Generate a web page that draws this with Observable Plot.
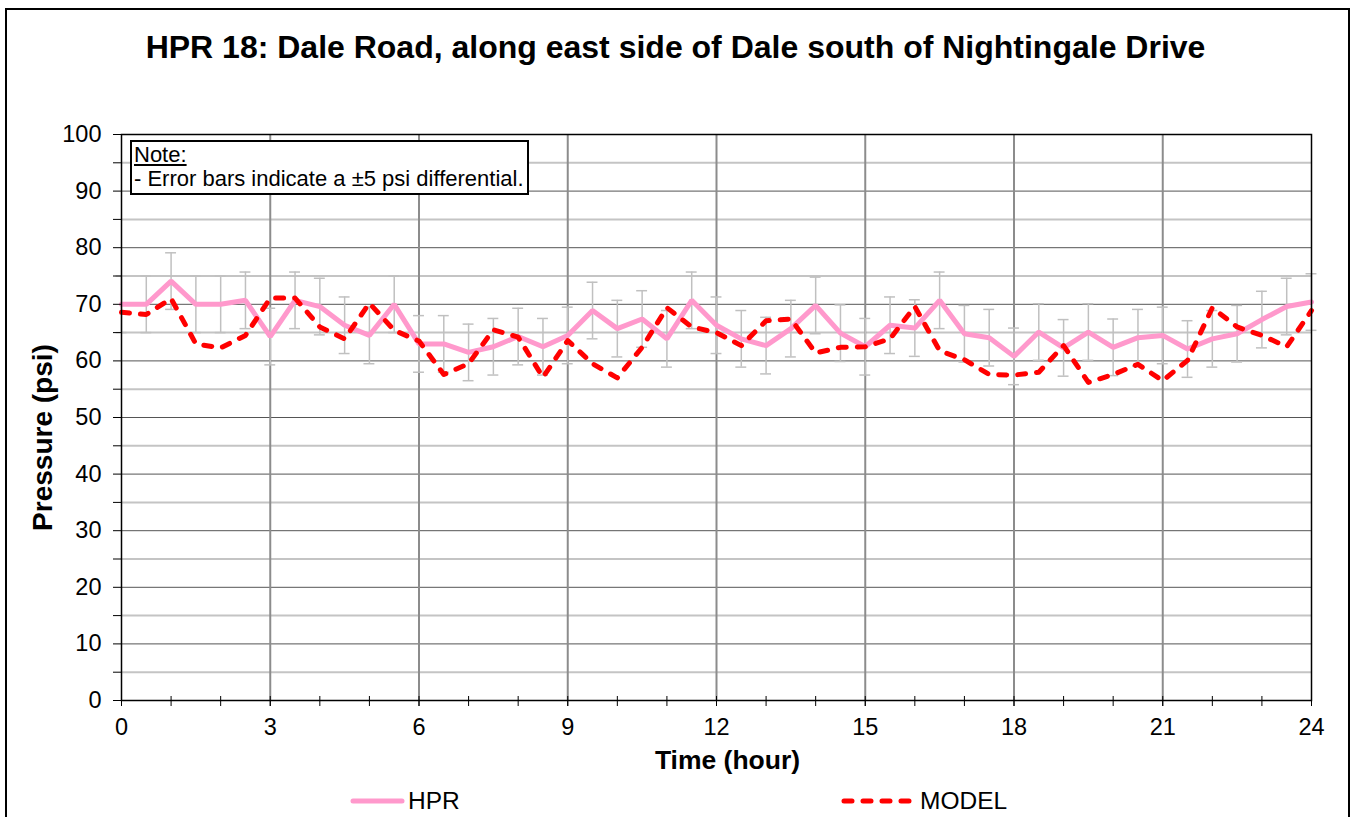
<!DOCTYPE html>
<html>
<head>
<meta charset="utf-8">
<script src="https://cdn.jsdelivr.net/npm/d3@7"></script>
<script src="https://cdn.jsdelivr.net/npm/@observablehq/plot@0.6"></script>
<style>
  html, body { margin: 0; padding: 0; background: #fff; }
  body { font-family: "Liberation Sans", Arial, sans-serif; }
  #wrap { position: relative; width: 1356px; height: 817px; overflow: hidden; background: #fff; }
  #border { position: absolute; left: 5px; top: 8px; width: 1345px; height: 900px; border: 2px solid #000; box-sizing: border-box; }
  #title { position: absolute; left: 0; top: 28px; width: 1351px; text-align: center; font-weight: bold; font-size: 32px; line-height: 38px; color: #000; white-space: nowrap; }
  #chart { position: absolute; left: 0; top: 100px; }
  #note { position: absolute; left: 130px; top: 140px; width: 399px; height: 55px; border: 2px solid #000; box-sizing: border-box; background: #fff; font-size: 22px; line-height: 24px; padding: 1px 0 0 2px; color: #000; white-space: nowrap; }
  #note u { text-decoration: underline; }
  .leg { position: absolute; top: 787px; height: 28px; display: flex; align-items: center; font-size: 24.5px; color: #000; }
  .leg svg { display: block; margin-right: 3px; }
</style>
</head>
<body>
<div id="wrap">
  <div id="border"></div>
  <div id="title"></div>
  <div id="chart"></div>
  <div id="note"><u>Note:</u><br>- Error bars indicate a ±5 psi differential.</div>
  <div class="leg" id="legHPR" style="left:350px"></div>
  <div class="leg" id="legMODEL" style="left:841px"></div>
</div>
<script>
const titleText = "HPR 18: Dale Road, along east side of Dale south of Nightingale Drive";
const xLabel = "Time (hour)";
const yLabel = "Pressure (psi)";
const seriesNames = ["HPR", "MODEL"];
const seriesColors = ["#ff99cc", "#ff0000"];
const errorMargin = 5;

const hours = [0, 0.5, 1, 1.5, 2, 2.5, 3, 3.5, 4, 4.5, 5, 5.5, 6, 6.5, 7, 7.5, 8, 8.5, 9, 9.5,
  10, 10.5, 11, 11.5, 12, 12.5, 13, 13.5, 14, 14.5, 15, 15.5, 16, 16.5, 17, 17.5, 18, 18.5, 19, 19.5,
  20, 20.5, 21, 21.5, 22, 22.5, 23, 23.5, 24];

const hprValues = [70.0, 70.0, 74.1, 70.0, 70.0, 70.7, 64.3, 70.7, 69.6, 66.3, 64.5, 70.0, 63.0, 63.0, 61.5, 62.5, 64.3, 62.5, 64.5, 68.9,
  65.7, 67.4, 63.9, 70.7, 66.3, 63.9, 62.7, 65.7, 69.8, 64.9, 62.5, 66.3, 65.8, 70.7, 64.8, 64.1, 60.8, 65.1, 62.3, 65.1,
  62.4, 64.1, 64.5, 62.1, 63.9, 64.8, 67.3, 69.6, 70.4];

const modelValues = [68.6, 68.2, 71.0, 63.0, 62.3, 64.5, 71.1, 71.1, 66.0, 63.9, 70.2, 65.4, 63.5, 57.6, 59.5, 65.5, 64.2, 57.1, 63.6, 59.5,
  57.0, 62.4, 69.4, 66.0, 65.0, 62.7, 67.1, 67.4, 61.4, 62.4, 62.5, 63.9, 69.6, 61.8, 60.2, 57.6, 57.5, 58.0, 62.7, 56.2,
  57.6, 59.4, 56.5, 60.1, 69.4, 66.0, 64.5, 62.5, 68.9];

const xTickLabels = [0, 3, 6, 9, 12, 15, 18, 21, 24];
const xMinorTicks = [0, 1, 2, 3, 4, 5, 6, 7, 8, 9, 10, 11, 12, 13, 14, 15, 16, 17, 18, 19, 20, 21, 22, 23, 24];
const yTickLabels = [0, 10, 20, 30, 40, 50, 60, 70, 80, 90, 100];
const yMinorTicks = [5, 15, 25, 35, 45, 55, 65, 75, 85, 95];
const xGrid = [3, 6, 9, 12, 15, 18, 21];

const hpr = hours.map((t, i) => ({t, v: hprValues[i]}));
const model = hours.map((t, i) => ({t, v: modelValues[i]}));
const capHalf = 0.11;

document.getElementById("title").textContent = titleText;

const chart = Plot.plot({
  width: 1356,
  height: 690,
  marginLeft: 121,
  marginRight: 45,
  marginTop: 34,
  marginBottom: 90,
  style: {fontFamily: "'Liberation Sans', Arial, sans-serif", fontSize: "23.5px", color: "#000", background: "transparent", overflow: "visible"},
  x: {domain: [0, 24], label: null},
  y: {domain: [0, 100], label: null},
  marks: [
    Plot.gridY(yMinorTicks, {stroke: "#c4c4c4", strokeOpacity: 1, strokeWidth: 2}),
    Plot.gridY(yTickLabels, {stroke: "#555", strokeOpacity: 1, strokeWidth: 1}),
    Plot.gridX(xGrid, {stroke: "#8c8c8c", strokeOpacity: 1, strokeWidth: 2}),
    // error bars
    Plot.ruleX(hpr, {x: "t", y1: d => d.v - errorMargin, y2: d => d.v + errorMargin, stroke: "#c0c0c0", strokeWidth: 1.5}),
    Plot.ruleY(hpr, {y: d => d.v + errorMargin, x1: d => d.t - capHalf, x2: d => d.t + capHalf, stroke: "#c0c0c0", strokeWidth: 1.5}),
    Plot.ruleY(hpr, {y: d => d.v - errorMargin, x1: d => d.t - capHalf, x2: d => d.t + capHalf, stroke: "#c0c0c0", strokeWidth: 1.5}),
    Plot.line(hpr, {x: "t", y: "v", stroke: seriesColors[0], strokeWidth: 5, strokeLinejoin: "miter"}),
    Plot.line(model, {x: "t", y: "v", stroke: seriesColors[1], strokeWidth: 5, strokeDasharray: "8,11", strokeLinecap: "round", strokeLinejoin: "round"}),
    Plot.frame({stroke: "#000", strokeWidth: 1.5}),
    Plot.axisY({ticks: yTickLabels, tickSize: 8, tickPadding: 12, fontSize: 23.5, label: null}),
    Plot.axisY({ticks: yMinorTicks, tickSize: 8, tickFormat: () => "", label: null}),
    Plot.axisX({ticks: xTickLabels, tickSize: 6, tickPadding: 12, fontSize: 23.5, label: null}),
    Plot.axisX({ticks: xMinorTicks, tickSize: 6, tickFormat: () => "", label: null}),
    Plot.axisX({ticks: xMinorTicks, tickSize: -4, tickFormat: () => "", label: null}),
    Plot.text([yLabel], {frameAnchor: "left", dx: -78, dy: 20, rotate: -90, textAnchor: "middle", lineAnchor: "middle", fontWeight: "bold", fontSize: 28, text: d => d}),
    Plot.text([xLabel], {frameAnchor: "bottom", dx: 11, dy: 60, textAnchor: "middle", lineAnchor: "middle", fontWeight: "bold", fontSize: 26.5, text: d => d})
  ]
});
document.getElementById("chart").appendChild(chart);

function legend(id, name, color, dashed) {
  const el = document.getElementById(id);
  const w = dashed ? 76 : 55;
  const dash = dashed ? 'stroke-dasharray="8,11" stroke-linecap="round"' : 'stroke-linecap="round"';
  el.innerHTML = `<svg width="${w}" height="14"><line x1="3" y1="7" x2="${w - 3}" y2="7" stroke="${color}" stroke-width="5" ${dash}/></svg><span>${name}</span>`;
}
legend("legHPR", seriesNames[0], seriesColors[0], false);
legend("legMODEL", seriesNames[1], seriesColors[1], true);
</script>
</body>
</html>
